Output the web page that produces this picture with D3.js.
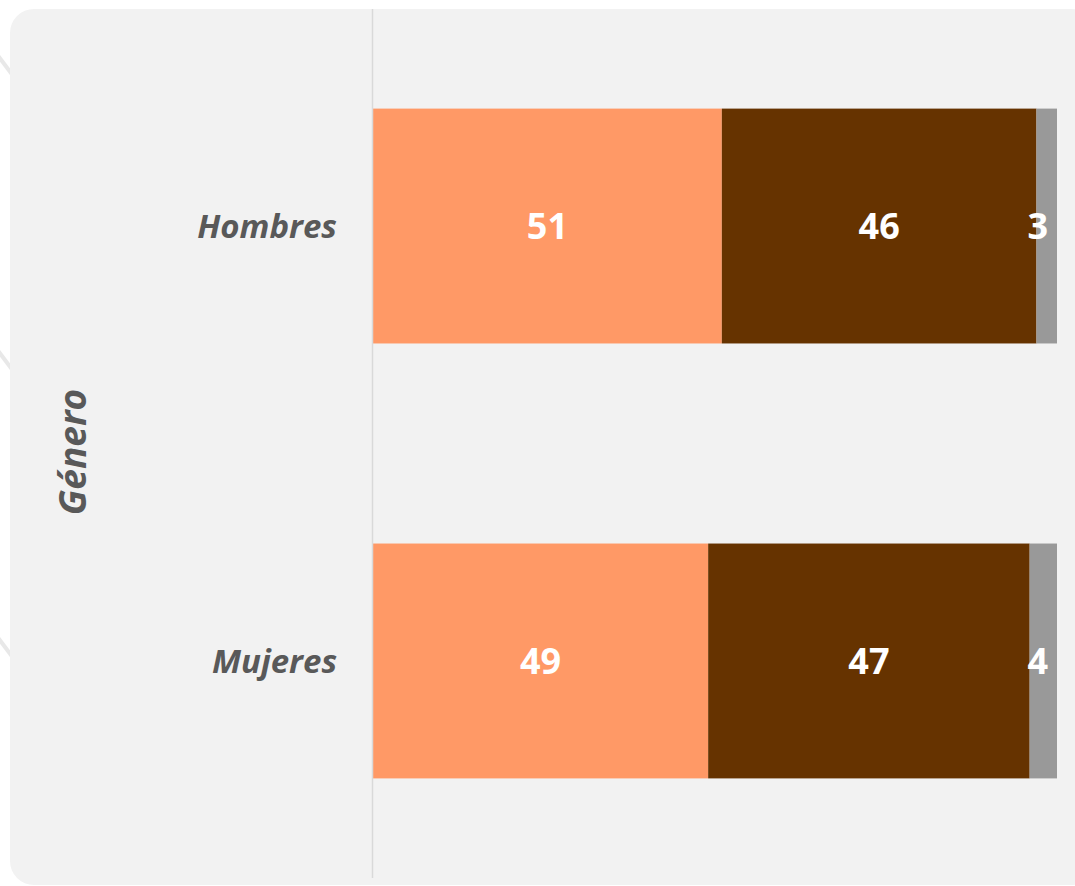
<!DOCTYPE html>
<html>
<head>
<meta charset="utf-8">
<script src="https://cdn.jsdelivr.net/npm/d3@7"></script>
<style>
  body { margin: 0; background: #fff; }
  text { font-family: "Open Sans", "Noto Sans", sans-serif; }
</style>
</head>
<body>
<script>
// data
var categories = ['Hombres', 'Mujeres'];
var seriesNames = ['Sí', 'No', 'NS/NC'];
var colors = ['#ff9966', '#663300', '#999999'];
var hombres = [51, 46, 3];
var mujeres = [49, 47, 4];
var axisTitle = 'Género';

var values = [hombres, mujeres];

var width = 1075, height = 886;

var svg = d3.select('body').append('svg')
  .attr('width', width)
  .attr('height', height);

// faint marks behind the panel
[73, 368, 655].forEach(function (y) {
  svg.append('line')
    .attr('x1', -4).attr('y1', y - 20)
    .attr('x2', 14).attr('y2', y + 4)
    .attr('stroke', '#e8e8e8')
    .attr('stroke-width', 4);
});

// panel
svg.append('rect')
  .attr('x', 10).attr('y', 9)
  .attr('width', 1085).attr('height', 876)
  .attr('rx', 24).attr('ry', 24)
  .attr('fill', '#f2f2f2');

var x = d3.scaleLinear().domain([0, 100]).range([373, 1057]);
var y = d3.scaleBand().domain(categories).range([9, 878])
  .paddingInner(0.46).paddingOuter(0.229);

// stacked layout
var rows = categories.map(function (c, i) {
  var acc = 0;
  return values[i].map(function (v, j) {
    var seg = { cat: c, idx: j, value: v, x0: acc, x1: acc + v };
    acc += v;
    return seg;
  });
});

var g = svg.selectAll('g.row')
  .data(rows)
  .enter().append('g')
  .attr('class', 'row');

g.selectAll('rect')
  .data(function (d) { return d; })
  .enter().append('rect')
  .attr('x', function (d) { return x(d.x0); })
  .attr('y', function (d) { return y(d.cat); })
  .attr('width', function (d) { return x(d.x1) - x(d.x0); })
  .attr('height', y.bandwidth())
  .attr('fill', function (d) { return colors[d.idx]; });

g.selectAll('text')
  .data(function (d) { return d; })
  .enter().append('text')
  .attr('x', function (d) {
    // small segments get pushed inside the plot edge
    return d.value < 5 ? x(100) - 9 : (x(d.x0) + x(d.x1)) / 2;
  })
  .attr('y', function (d) { return y(d.cat) + y.bandwidth() / 2; })
  .attr('dy', '0.36em')
  .attr('text-anchor', function (d) { return d.value < 5 ? 'end' : 'middle'; })
  .attr('fill', '#fff')
  .attr('font-weight', 700)
  .attr('font-size', 36)
  .text(function (d) { return d.value; });

// vertical axis line
svg.append('line')
  .attr('x1', 372.5).attr('x2', 372.5)
  .attr('y1', 9).attr('y2', 878)
  .attr('stroke', '#d9d9d9')
  .attr('stroke-width', 1.5);

// category labels
svg.selectAll('text.cat')
  .data(categories)
  .enter().append('text')
  .attr('class', 'cat')
  .attr('x', 337)
  .attr('y', function (d) { return y(d) + y.bandwidth() / 2; })
  .attr('dy', '0.36em')
  .attr('text-anchor', 'end')
  .attr('fill', '#595959')
  .attr('font-weight', 700)
  .attr('font-style', 'italic')
  .attr('font-size', 33)
  .text(function (d) { return d; });

// axis title
svg.append('text')
  .attr('transform', 'translate(86,452) rotate(-90)')
  .attr('text-anchor', 'middle')
  .attr('fill', '#595959')
  .attr('font-weight', 700)
  .attr('font-style', 'italic')
  .attr('font-size', 37)
  .text(axisTitle);
</script>
</body>
</html>
